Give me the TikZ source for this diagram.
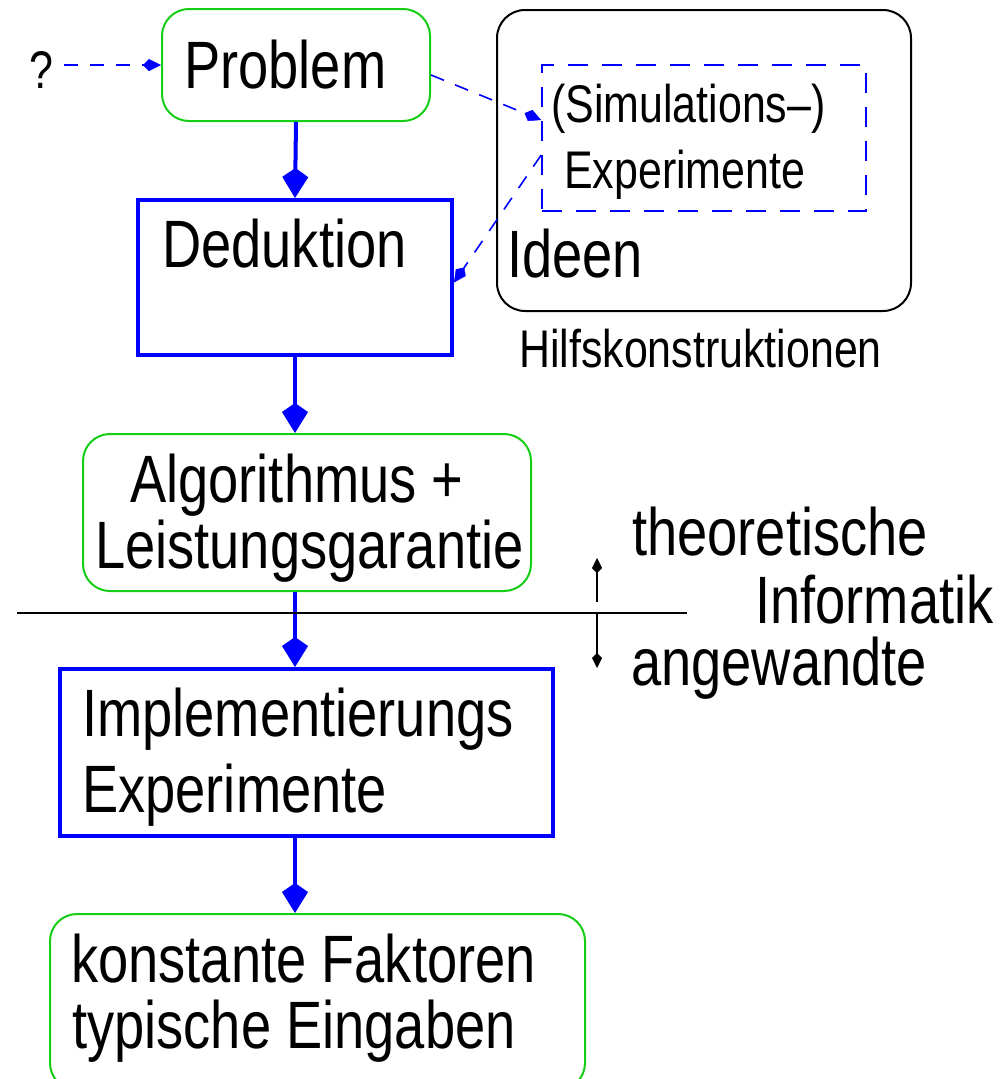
\documentclass[tikz,border=0pt]{standalone}
\usepackage{fontspec}
\setmainfont{Liberation Sans}[FakeStretch=0.81]
\usetikzlibrary{arrows.meta,calc}
\definecolor{boxgreen}{RGB}{20,205,20}
\begin{document}
\begin{tikzpicture}[x=1pt,y=-1pt,
  box/.style={rectangle,inner sep=0pt},
  greenbox/.style={box,draw=boxgreen,line width=2pt,rounded corners=27pt},
  bluebox/.style={box,draw=blue,line width=4pt},
  blackbox/.style={box,draw=black,line width=2pt,rounded corners=28pt},
  dashbox/.style={box,draw=blue,line width=1.6pt,dash pattern=on 20pt off 14pt},
  big/.style={inner sep=0pt,anchor=base west,font=\fontsize{67}{67}\selectfont},
  small/.style={inner sep=0pt,anchor=base west,font=\fontsize{53}{53}\selectfont},
  flow/.style={draw=blue,line width=4pt,-{Kite[length=30pt,width=26pt,inset=9pt,line width=1pt]}},
  dflow/.style={draw=blue,line width=1.6pt,dash pattern=on 14pt off 12pt,
    -{Kite[length=18pt,width=12pt,inset=6pt,line width=0.5pt]}},
  tick/.style={draw=black,line width=1.6pt,-{Kite[length=15pt,width=10pt,inset=5pt,line width=0.5pt]}}]
\useasboundingbox (0,0) rectangle (1000,1079);
\clip (0,0) rectangle (1000,1079);

% boxes
\node[greenbox,minimum width=268pt,minimum height=112pt] (prob) at (296,65) {};
\node[bluebox,minimum width=314pt,minimum height=155pt] (ded) at (295,277.5) {};
\node[greenbox,minimum width=448pt,minimum height=157pt] (alg) at (307,512.5) {};
\node[bluebox,minimum width=493pt,minimum height=167pt] (impl) at (306.5,752.5) {};
\node[greenbox,minimum width=535pt,minimum height=176pt] (konst) at (317.5,1002) {};
\node[blackbox,minimum width=414pt,minimum height=301pt] (ideen) at (704,160.5) {};
\node[dashbox,minimum width=324pt,minimum height=146pt] (sim) at (704,138) {};

% labels
\node[small] (q) at (29,88) {?};
\node[big] (tprob) at (184,88) {Problem};
\node[big] (tded) at (162,267) {Deduktion};
\node[big] (talg1) at (130,502) {Algorithmus +};
\node[big] (talg2) at (95,568) {Leistungsgarantie};
\node[big] (timpl1) at (82,736) {Implementierungs};
\node[big] (timpl2) at (82,812) {Experimente};
\node[big] (tkonst1) at (71,982) {konstante Faktoren};
\node[big] (tkonst2) at (72,1048) {typische Eingaben};
\node[big] (tideen) at (507,277) {Ideen};
\node[small] (tsim1) at (551,122) {(Simulations--)};
\node[small] (tsim2) at (564,188) {Experimente};
\node[small] (thilf) at (519,367) {Hilfskonstruktionen};
\node[big] (ttheo) at (632,555) {theoretische};
\node[big] (tinf) at (755,623) {Informatik};
\node[big] (tang) at (631,685) {angewandte};

% main flow
\draw[flow] (prob.south) -- (ded.north);
\draw[flow] (ded.south) -- (ded.south |- alg.north);
\draw[flow] (ded.south |- alg.south) -- (ded.south |- impl.north);
\draw[flow] (ded.south |- impl.south) -- (ded.south |- konst.north);

% dashed side connections
\draw[dflow,shorten <=11pt] (q.east |- prob.west) -- (prob.west);
\draw[dflow] ($(prob.east)+(0,10)$) -- ($(sim.west)+(0,-18)$);
\draw[dflow] ($(sim.west)+(0,17)$) -- ($(ded.east)+(0,5)$);

% separator between theory and practice
\coordinate (sepl) at (17,613);
\coordinate (sepr) at (687,613);
\coordinate (up0) at (597,602);
\coordinate (up1) at (597,558);
\coordinate (dn1) at (597,668);
\draw[line width=1.6pt] (sepl) -- (sepr);
\draw[tick] (up0) -- (up1);
\draw[tick] (up0 |- sepl) -- (dn1);
\end{tikzpicture}
\end{document}
